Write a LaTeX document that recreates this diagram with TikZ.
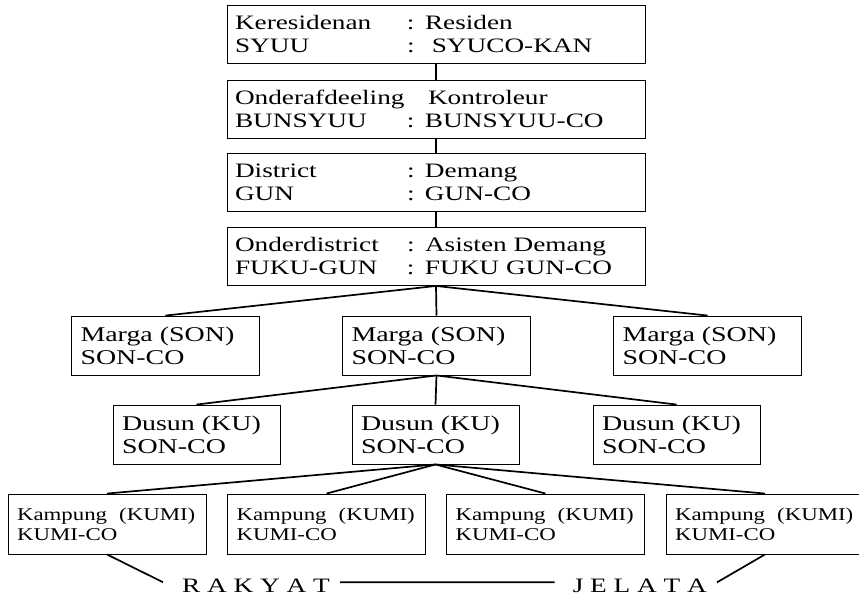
\documentclass[tikz,border=0pt]{standalone}
\usepackage{fontspec}
\setmainfont{Liberation Serif}[FakeStretch=1.33]
\newfontfamily\kampfont{Liberation Serif}[FakeStretch=1.27]
% one "name : title" line of an office box
\newcommand\pair[2]{\makebox[172pt][l]{#1}\makebox[18pt][l]{:}#2}
\begin{document}
\begin{tikzpicture}[x=1pt,y=-1pt,
  box/.style={draw, line width=0.9pt, align=left, inner ysep=0pt, anchor=center},
  topbox/.style={box, inner xsep=8pt, text width=402pt, minimum height=58pt,
                 font=\fontsize{20.5}{23}\selectfont},
  margabox/.style={box, inner xsep=9pt, text width=170pt, minimum height=59pt,
                 font=\fontsize{21}{23}\selectfont},
  dusunbox/.style={box, inner xsep=9pt, text width=149pt, minimum height=59pt,
                 font=\fontsize{21}{23}\selectfont},
  kampbox/.style={box, inner xsep=9pt, text width=180pt, minimum height=60pt,
                 font=\kampfont\fontsize{18}{20}\selectfont},
  people/.style={inner sep=0pt, font=\fontsize{20.5}{24}\selectfont},
  link/.style={line width=1.7pt}]
\useasboundingbox (0,0) rectangle (859,595);

% administrative levels
\node[topbox] (kres) at (436,34)  {\pair{Keresidenan}{Residen}\\\pair{SYUU}{\ SYUCO-KAN}};
\node[topbox] (onaf) at (436,109) {\makebox[193pt][l]{Onderafdeeling}Kontroleur\\\pair{BUNSYUU}{BUNSYUU-CO}};
\node[topbox] (dist) at (436,182.5) {\pair{District}{Demang}\\\pair{GUN}{GUN-CO}};
\node[topbox] (ondi) at (436,256.5) {\pair{Onderdistrict}{Asisten Demang}\\\pair{FUKU-GUN}{FUKU GUN-CO}};

% marga
\node[margabox] (m1) at (165.5,345.5) {Marga (SON)\\SON-CO};
\node[margabox] (m2) at (436.5,345.5) {Marga (SON)\\SON-CO};
\node[margabox] (m3) at (707.5,345.5) {Marga (SON)\\SON-CO};

% dusun
\node[dusunbox] (d1) at (196.5,434.5) {Dusun (KU)\\SON-CO};
\node[dusunbox] (d2) at (435.5,434.5) {Dusun (KU)\\SON-CO};
\node[dusunbox] (d3) at (676.5,434.5) {Dusun (KU)\\SON-CO};

% kampung (the last box runs past the right edge of the page)
\node[kampbox] (k1) at (107,524)   {Kampung\ \ (KUMI)\\KUMI-CO};
\node[kampbox] (k2) at (326.5,524) {Kampung\ \ (KUMI)\\KUMI-CO};
\node[kampbox] (k3) at (545.5,524) {Kampung\ \ (KUMI)\\KUMI-CO};
\node[kampbox] (k4) at (765,524)   {Kampung\ \ (KUMI)\\KUMI-CO};

% common people
\node[people, anchor=base west] (rakyat) at (182,592) {R A K Y A T};
\node[people, anchor=base east] (jelata) at (707,592) {J E L A T A};

% connectors
\draw[link] (kres.south) -- (onaf.north);
\draw[link] (onaf.south) -- (dist.north);
\draw[link] (dist.south) -- (ondi.north);
\foreach \m in {m1,m2,m3} \draw[link] (ondi.south) -- (\m.north);
\foreach \d in {d1,d2,d3} \draw[link] (m2.south) -- (\d.north);
\foreach \k in {k1,k2,k3,k4} \draw[link] (d2.south) -- (\k.north);
\draw[link] (k1.south) -- ([xshift=-19pt,yshift=3pt]rakyat.west);
\draw[link] ([xshift=10pt,yshift=3pt]rakyat.east) -- ([xshift=-18pt,yshift=3pt]jelata.west);
\draw[link] (k4.south) -- ([xshift=10pt,yshift=3pt]jelata.east);
\end{tikzpicture}
\end{document}
